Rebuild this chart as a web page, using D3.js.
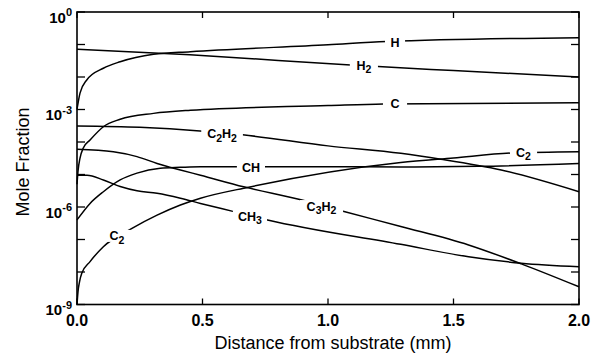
<!DOCTYPE html>
<html><head><meta charset="utf-8">
<script src="https://cdn.jsdelivr.net/npm/d3@7"></script>
<style>
html,body{margin:0;padding:0;background:#fff;}
svg{display:block;}
text{font-family:"Liberation Sans",Arial,Helvetica,sans-serif;fill:#000;}
</style></head>
<body>
<script>
// ---- data (x in mm, mole fraction) ----
const xH    = [0, 0.012, 0.039, 0.105, 0.172, 0.305, 0.452, 1.0, 1.232, 2.0];
const yH    = [1.0e-3, 3.2e-3, 8.1e-3, 1.86e-2, 2.95e-2, 5.0e-2, 6.0e-2, 9.8e-2, 0.123, 0.162];
const xH2   = [0, 0.45, 1.09, 1.2, 1.5, 2.0];
const yH2   = [7.1e-2, 4.8e-2, 2.34e-2, 2.09e-2, 1.58e-2, 1.0e-2];
const xC    = [0, 0.004, 0.012, 0.025, 0.052, 0.105, 0.172, 0.305, 0.452, 1.0, 1.22, 2.0];
const yC    = [5.0e-6, 1.26e-5, 3.2e-5, 6.5e-5, 1.15e-4, 2.95e-4, 5.0e-4, 7.6e-4, 9.5e-4, 1.32e-3, 1.48e-3, 1.62e-3];
const xC2H2 = [0, 0.25, 0.49, 0.66, 1.0, 1.29, 1.45, 1.69, 2.0];
const yC2H2 = [3.09e-4, 2.82e-4, 2.19e-4, 1.66e-4, 7.6e-5, 4.47e-5, 2.95e-5, 1.38e-5, 2.95e-6];
const xC3H2 = [0, 0.145, 0.239, 0.319, 0.412, 0.492, 0.664, 0.892, 1.06, 1.29, 1.56, 1.77, 2.0];
const yC3H2 = [6.0e-5, 5.0e-5, 3.55e-5, 2.19e-5, 1.38e-5, 9.5e-6, 4.17e-6, 1.66e-6, 7.4e-7, 2.51e-7, 6.8e-8, 1.78e-8, 3.5e-9];
const xCH3  = [0, 0.04, 0.105, 0.172, 0.239, 0.319, 0.412, 0.492, 0.625, 0.759, 1.29, 1.56, 1.77, 2.0];
const yCH3  = [9.5e-6, 9.5e-6, 6.8e-6, 4.27e-6, 3.16e-6, 2.63e-6, 1.86e-6, 1.29e-6, 7.2e-7, 4.0e-7, 7.1e-8, 2.95e-8, 1.86e-8, 1.45e-8];
const xCH   = [0, 0.052, 0.105, 0.172, 0.239, 0.332, 0.412, 0.492, 1.0, 1.29, 1.6, 2.0];
const yCH   = [4.0e-7, 1.29e-6, 2.95e-6, 6.8e-6, 1.10e-5, 1.55e-5, 1.66e-5, 1.74e-5, 1.74e-5, 1.70e-5, 1.78e-5, 2.19e-5];
const xC2   = [0, 0.004, 0.01, 0.019, 0.052, 0.105, 0.219, 0.319, 0.412, 0.492, 0.684, 1.29, 1.5, 1.73, 2.0];
const yC2   = [1e-9, 2.5e-9, 5.0e-9, 9.1e-9, 2.09e-8, 6.0e-8, 2.19e-7, 5.6e-7, 1.15e-6, 1.86e-6, 4.07e-6, 2.34e-5, 3.24e-5, 4.57e-5, 5.0e-5];

// labels: [main, sub, main, sub...], position in data units, gap width in mm
const labelParts = [["H"],["H","2"],["C"],["C","2","H","2"],["CH"],["C","3","H","2"],["CH","3"],["C","2"],["C","2"]];
const labelX     = [1.267, 1.143, 1.267, 0.578, 0.693, 0.974, 0.689, 1.779, 0.159];
const labelY     = [0.119, 0.0234, 1.58e-3, 1.78e-4, 1.66e-5, 1.07e-6, 5.25e-7, 4.8e-5, 1.29e-7];
const labelGap   = [0.08, 0.112, 0.096, 0.166, 0.112, 0.172, 0.136, 0.108, 0.115];

const xTicks = [0, 0.5, 1.0, 1.5, 2.0];
const xTickLabels = ["0.0","0.5","1.0","1.5","2.0"];
const yMajor = [1, 1e-3, 1e-6, 1e-9];
const yMajorExp = ["0","-3","-6","-9"];
const yMinor = [1,1e-1,1e-2,1e-3,1e-4,1e-5,1e-6,1e-7,1e-8,1e-9];

const series = [[xH,yH],[xH2,yH2],[xC,yC],[xC2H2,yC2H2],[xC3H2,yC3H2],[xCH3,yCH3],[xCH,yCH],[xC2,yC2]];

// ---- layout ----
const W = 599, H = 355;
const L = 77, R = 579, T = 12, B = 304.5;
const svg = d3.select("body").append("svg").attr("width", W).attr("height", H);
const x = d3.scaleLinear().domain([0, 2]).range([L, R]);
const y = d3.scaleLog().domain([1e-9, 1]).range([B, T]);

const line = d3.line().x(d => x(d[0])).y(d => y(d[1])).curve(d3.curveMonotoneX);
const g = svg.append("g");
series.forEach(([xs, ys]) => {
  g.append("path").datum(xs.map((v, i) => [v, ys[i]]))
    .attr("d", line).attr("fill", "none").attr("stroke", "#000")
    .attr("stroke-width", 1.5).attr("stroke-linejoin", "round");
});

// labels with gaps
labelParts.forEach((parts, i) => {
  const cx = x(labelX[i]), cy = y(labelY[i]);
  const gw = x(labelGap[i]) - x(0);
  svg.append("rect").attr("x", cx - gw/2).attr("y", cy - 6).attr("width", gw).attr("height", 12).attr("fill", "#fff");
  const t = svg.append("text").attr("x", cx).attr("y", cy + 4.5).attr("text-anchor", "middle")
    .attr("font-size", 12.5).attr("font-weight", "bold");
  parts.forEach((p, j) => {
    const isSub = /^\d$/.test(p);
    const prevSub = j > 0 && /^\d$/.test(parts[j-1]);
    const ts = t.append("tspan").text(p);
    if (isSub) ts.attr("font-size", 10.5).attr("dy", 3.5);
    else if (prevSub) ts.attr("dy", -3.5);
  });
});

// frame
svg.append("rect").attr("x", L).attr("y", T).attr("width", R - L).attr("height", B - T)
  .attr("fill", "none").attr("stroke", "#000").attr("stroke-width", 1.6);

// y ticks (left & right, inward)
yMinor.forEach(v => {
  svg.append("line").attr("x1", L).attr("x2", L + 8).attr("y1", y(v)).attr("y2", y(v)).attr("stroke", "#000").attr("stroke-width", 1.3);
  svg.append("line").attr("x1", R).attr("x2", R - 8).attr("y1", y(v)).attr("y2", y(v)).attr("stroke", "#000").attr("stroke-width", 1.3);
});
// x ticks (top & bottom, inward)
xTicks.forEach(v => {
  svg.append("line").attr("x1", x(v)).attr("x2", x(v)).attr("y1", B).attr("y2", B - 6).attr("stroke", "#000").attr("stroke-width", 1.3);
  svg.append("line").attr("x1", x(v)).attr("x2", x(v)).attr("y1", T).attr("y2", T + 6).attr("stroke", "#000").attr("stroke-width", 1.3);
});

// y tick labels
yMajor.forEach((v, i) => {
  const t = svg.append("text").attr("x", 72).attr("y", y(v) + 10.5).attr("text-anchor", "end")
    .attr("font-size", 15).attr("font-weight", "bold");
  t.append("tspan").text("10");
  t.append("tspan").text(yMajorExp[i]).attr("font-size", 11).attr("dy", -6.5);
});
// x tick labels
xTicks.forEach((v, i) => {
  svg.append("text").attr("x", x(v)).attr("y", 325.5).attr("text-anchor", "middle")
    .attr("font-size", 16).attr("font-weight", "bold").text(xTickLabels[i]);
});

// axis titles
svg.append("text").attr("x", 333).attr("y", 349).attr("text-anchor", "middle")
  .attr("font-size", 18).text("Distance from substrate (mm)");
svg.append("text").attr("transform", "translate(29,162) rotate(-90)").attr("text-anchor", "middle")
  .attr("font-size", 18).text("Mole Fraction");
</script>
</body></html>
